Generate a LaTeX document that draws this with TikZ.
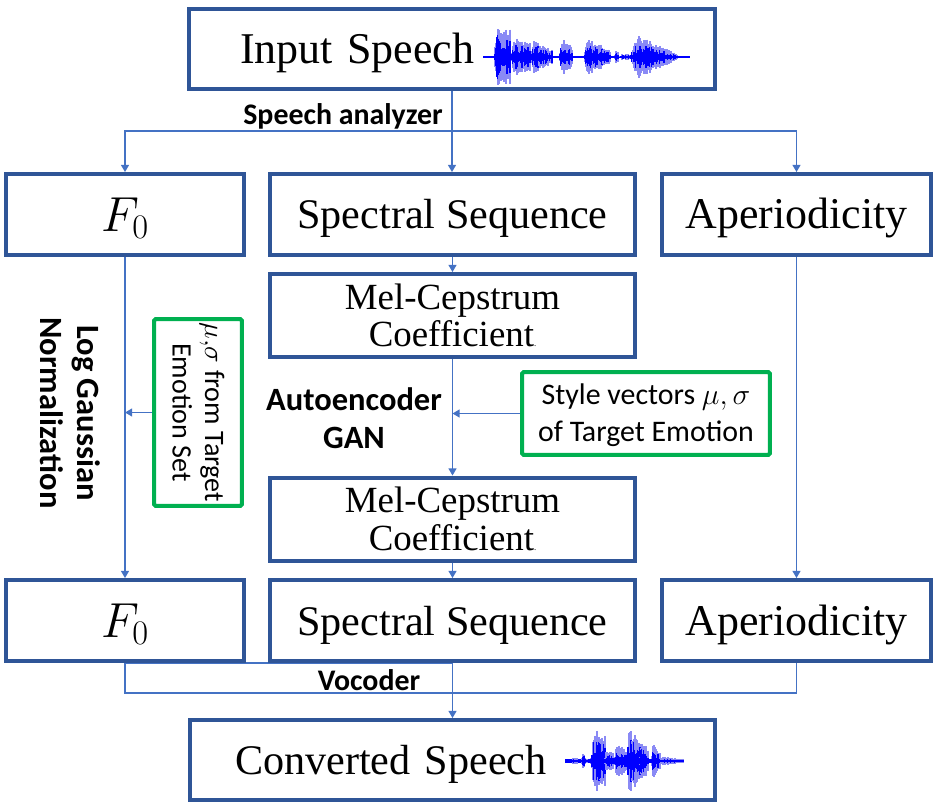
\RequirePackage{fix-cm}
\documentclass[tikz,border=0pt]{standalone}
\usepackage[no-math]{fontspec}
\setmainfont{Liberation Serif}
\newfontfamily\calibri{Carlito}
\usepackage{tikz}
\usetikzlibrary{arrows.meta,backgrounds}
\definecolor{boxblue}{HTML}{2F5597}
\definecolor{linkblue}{HTML}{4472C4}
\definecolor{stylegreen}{HTML}{00B050}
\definecolor{wavedarkc}{HTML}{0000FF}
\definecolor{wavelightc}{HTML}{8A8AF5}

\tikzset{
  blockbox/.style={draw=boxblue, line width=0.08cm, fill=white, inner sep=0pt, align=center,
    minimum height=1.62cm, text height=16.5pt, text depth=0pt, font=\fontsize{25}{28}\selectfont},
  melbox/.style={blockbox, minimum width=7.3cm, minimum height=1.66cm, text height=35.8pt,
    text depth=0pt, font=\fontsize{21}{21.5}\selectfont},
  greenbox/.style={draw=stylegreen, line width=0.08cm, rounded corners=1pt, inner sep=0pt,
    align=center, text depth=0pt, font=\calibri\fontsize{17}{21}\selectfont},
  steplabel/.style={inner sep=0pt, align=center, anchor=base, font=\calibri\bfseries\fontsize{18.5}{21.5}\selectfont},
  link/.style={draw=linkblue, line width=0.7pt},
  linkarrow/.style={link, -{Triangle[length=4pt,width=4.5pt]}},
  wavelight/.style={draw=wavelightc, line width=0.6pt},
  wavedark/.style={draw=wavedarkc, line width=0.6pt},
}

% one burst of a waveform: from, to, amplitude, decay, centre line
\newcommand{\wavechunk}[5]{%
  \foreach \wx in {#1,...,#2}{
    \pgfmathsetmacro{\wt}{(\wx-#1)/(#2-#1+1)}
    \pgfmathsetmacro{\wenv}{#3*min(1,5*\wt+0.3)*(1-#4*\wt)}
    \pgfmathsetmacro{\wlight}{\wenv*(0.6+0.4*rnd)}
    \pgfmathsetmacro{\wdark}{\wenv*(0.2+0.5*rnd)}
    \draw[wavelight] (\wx,#5-\wlight) -- (\wx,#5+\wlight);
    \draw[wavedark] (\wx,#5-\wdark) -- (\wx,#5+\wdark);
  }}

\begin{document}
\begin{tikzpicture}[x=0.02cm, y=-0.02cm]
  \useasboundingbox (0,0) rectangle (942,811);
  \pgfmathsetseed{7}

  % Define nodes
  \node[blockbox, minimum width=10.52cm, minimum height=1.6cm, text width=8.48cm,
    inner xsep=1.02cm, align=left] (input) at (452,49) {Input Speech};
  \node[blockbox, minimum width=4.76cm, text height=19pt, font=\fontsize{28}{30}\selectfont] (f0a) at (125,214.5) {$F_0$};
  \node[blockbox, minimum width=7.3cm, font=\fontsize{24}{28}\selectfont] (spec1) at (452.5,214.5) {Spectral Sequence};
  \node[blockbox, minimum width=5.38cm] (ap1) at (796.5,214.5) {Aperiodicity};
  \node[melbox] (mel1) at (452.5,315.5) {Mel-Cepstrum\\Coefficient{\tiny.}};
  \node[melbox] (mel2) at (452.5,519) {Mel-Cepstrum\\Coefficient{\tiny.}};
  \node[blockbox, minimum width=4.76cm, text height=19pt, font=\fontsize{28}{30}\selectfont] (f0b) at (125,620.5) {$F_0$};
  \node[blockbox, minimum width=7.3cm, font=\fontsize{24}{28}\selectfont] (spec2) at (452.5,620.5) {Spectral Sequence};
  \node[blockbox, minimum width=5.38cm] (ap2) at (796.5,620.5) {Aperiodicity};
  \node[blockbox, minimum width=10.5cm, minimum height=1.6cm, text width=8.7cm,
    inner xsep=0.9cm, align=left, font=\fontsize{24}{28}\selectfont] (conv) at (452.5,760) {Converted Speech};

  \node[greenbox, rotate=-90, minimum width=3.74cm, minimum height=1.76cm, text height=28.8pt,
    font=\calibri\fontsize{16}{18.5}\selectfont] (musig) at (198,412.5)
    {$\mu,\!\sigma$ from Target\\Emotion Set};
  \node[greenbox, minimum width=4.96cm, minimum height=1.66cm, text height=31.9pt] (style) at (646,413.5)
    {Style vectors $\mu,\sigma$\\of Target Emotion};

  \node[steplabel, font=\calibri\bfseries\fontsize{17}{20}\selectfont] (analyzer) at (343,124) {Speech analyzer};
  \node[steplabel] (autoenc) at (354,448) {Autoencoder\\GAN};
  \node[steplabel, rotate=-90] (lognorm) at (40,413) {Log Gaussian\\Normalization};
  \node[steplabel, font=\calibri\bfseries\fontsize{17}{20}\selectfont] (vocoder) at (369,690) {Vocoder};

  % Connect nodes
  \coordinate (split) at (452,131);
  \draw[linkarrow] (input.south) -- (input.south |- spec1.north);
  \draw[linkarrow] (split) -| (f0a.north);
  \draw[linkarrow] (split) -| (ap1.north);
  \draw[linkarrow] (spec1.south) -- (mel1.north);
  \draw[linkarrow] (mel1.south) -- (mel2.north);
  \draw[linkarrow] (mel2.south) -- (spec2.north);
  \draw[linkarrow] (f0a.south) -- (f0b.north);
  \draw[linkarrow] (ap1.south) -- (ap2.north);
  \draw[linkarrow] (style.west) -- (style.west -| mel1.south);
  \draw[linkarrow] (musig.south) -- (musig.south -| f0a.south);
  \begin{scope}[on background layer]
    \draw[link] (f0b.south) -- ++(0,30) -| (ap2.south);
    \draw[linkarrow] (f0b.south) -| (conv.north);
  \end{scope}

  % Waveforms
  \draw[wavedark, line width=0.8pt] (483,57) -- (690,57);
  \wavechunk{495}{510}{34}{0.2}{57}
  \wavechunk{512}{530}{20}{0.3}{57}
  \wavechunk{531}{552}{19}{0.6}{57}
  \wavechunk{560}{572}{21}{0.5}{57}
  \wavechunk{585}{610}{22}{0.7}{57}
  \wavechunk{615}{618}{8}{0.3}{57}
  \wavechunk{620}{631}{3}{0.2}{57}
  \wavechunk{632}{677}{25}{0.9}{57}

  \draw[wavedark, line width=2pt] (565,761) -- (683,761);
  \wavechunk{570}{591}{3}{0}{761}
  \wavechunk{582}{584}{8}{0}{761}
  \wavechunk{592}{605}{35}{0.3}{761}
  \wavechunk{605}{613}{14}{0.3}{761}
  \wavechunk{615}{625}{21}{0.4}{761}
  \wavechunk{627}{640}{35}{0.4}{761}
  \wavechunk{640}{648}{21}{0.4}{761}
  \wavechunk{652}{660}{19}{0.5}{761}
  \wavechunk{660}{683}{5}{0.6}{761}
\end{tikzpicture}
\end{document}
